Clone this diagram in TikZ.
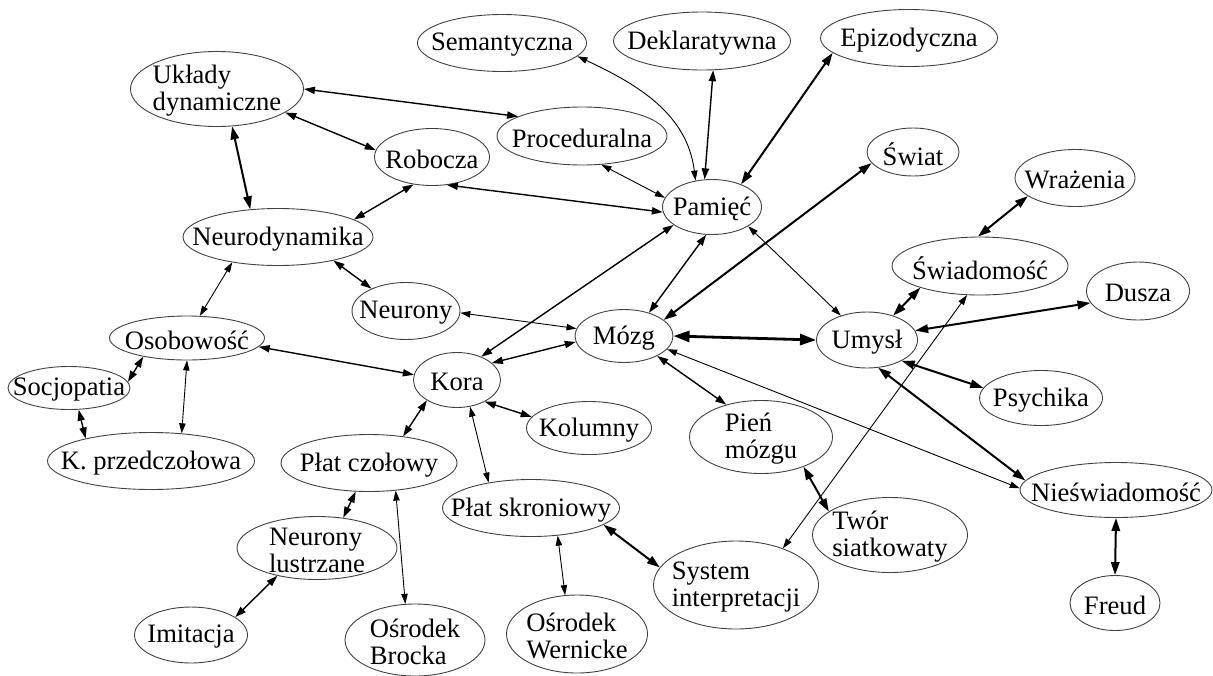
\documentclass[tikz,border=0pt]{standalone}
\usepackage{fontspec}
\setmainfont{Liberation Serif}
\usetikzlibrary{arrows.meta,shapes.geometric}

\tikzset{
  concept/.style={ellipse, draw=black!75, line width=0.45pt, inner sep=0pt},
  sz/.style 2 args={minimum width=#1*0.5pt, minimum height=#2*0.5pt},
  every label/.style={align=left, inner sep=0pt, yshift=-1pt, font=\fontsize{13.3}{13.5}\selectfont},
  rel/.style={line width=0.45pt, arrows={Triangle[length=5pt,width=3.2pt]-Triangle[length=5pt,width=3.2pt]}},
  relmid/.style={line width=0.7pt, arrows={Triangle[length=5.5pt,width=3.6pt]-Triangle[length=5.5pt,width=3.6pt]}},
  relthick/.style={line width=1pt, arrows={Triangle[length=6.5pt,width=4.2pt]-Triangle[length=6.5pt,width=4.2pt]}},
  relmax/.style={line width=1.4pt, arrows={Triangle[length=8pt,width=5.5pt]-Triangle[length=8pt,width=5.5pt]}}
}

\begin{document}
\begin{tikzpicture}[x=0.5pt, y=-0.5pt, font=\fontsize{13.3}{13.5}\selectfont]
  \useasboundingbox (0,0) rectangle (1213,675);

  % pamiec
  \node[concept, sz={169}{57}, label=center:Semantyczna] (sem) at (502,43) {};
  \node[concept, sz={177}{58}, label=center:Deklaratywna] (dekl) at (702,41) {};
  \node[concept, sz={177}{57}, label=center:Epizodyczna] (epi) at (909,38) {};
  \node[concept, sz={170}{58}, label=center:Proceduralna] (proc) at (582,136) {};
  \node[concept, sz={115}{57}, label=center:Robocza] (rob) at (432,157) {};
  \node[concept, sz={99}{55}, label=center:Pamięć] (pam) at (712,207) {};
  \node[concept, sz={173}{75}, label={center:Układy\\dynamiczne}] (ukl) at (217,89) {};
  \node[concept, sz={190}{57}, label=center:Neurodynamika] (ndyn) at (278,237) {};
  \node[concept, sz={108}{57}, label=center:Neurony] (neur) at (406,311) {};

  % umysl
  \node[concept, sz={92}{48}, label=center:Świat] (swiat) at (913,152) {};
  \node[concept, sz={120}{57}, label=center:Wrażenia] (wraz) at (1075,178) {};
  \node[concept, sz={176}{58}, label=center:Świadomość] (swiad) at (980,266) {};
  \node[concept, sz={103}{58}, label=center:Dusza] (dusza) at (1138,291) {};
  \node[concept, sz={101}{56}, label=center:Umysł] (umysl) at (867,340) {};
  \node[concept, sz={123}{55}, label=center:Psychika] (psych) at (1041,398) {};
  \node[concept, sz={192}{55}, label=center:Nieświadomość] (nies) at (1116,490) {};
  \node[concept, sz={90}{55}, label=center:Freud] (freud) at (1115,603) {};

  % mozg
  \node[concept, sz={98}{53}, label=center:Mózg] (mozg) at (624,336) {};
  \node[concept, sz={143}{73}, label={center:Pień\\mózgu}] (pien) at (761,437) {};
  \node[concept, sz={155}{75}, label={center:Twór\\siatkowaty}] (twor) at (890,535) {};
  \node[concept, sz={165}{88}, label={center:System\\interpretacji}] (sys) at (736,585) {};
  \node[concept, sz={87}{55}, label=center:Kora] (kora) at (457,380) {};
  \node[concept, sz={125}{53}, label=center:Kolumny] (kol) at (589,428) {};
  \node[concept, sz={177}{57}, label=center:Płat skroniowy] (skron) at (531,508) {};
  \node[concept, sz={141}{78}, label={center:Ośrodek\\Wernicke}] (wern) at (577,634) {};
  \node[concept, sz={176}{57}, label=center:Płat czołowy] (czol) at (369,463) {};
  \node[concept, sz={160}{63}, label={center:Neurony\\lustrzane}] (lustr) at (317,548) {};
  \node[concept, sz={113}{56}, label=center:Imitacja] (imit) at (191,635) {};
  \node[concept, sz={140}{72}, label={center:Ośrodek\\Brocka}] (broca) at (415,640) {};

  % osobowosc
  \node[concept, sz={155}{44}, label=center:Osobowość] (osob) at (187,338) {};
  \node[concept, sz={122}{43}, label=center:Socjopatia] (socj) at (69,388) {};
  \node[concept, sz={207}{57}, label=center:K. przedczołowa] (kprz) at (151,461) {};

  % connectors
  \draw[relmid] (ukl.0) -- (proc.163);
  \draw[relmid] (ukl.-19) -- (rob.173);
  \draw[relthick] (ukl.-68) -- (ndyn.135);
  \draw[relmid] (rob.-124) -- (ndyn.13);
  \draw[relmid] (rob.-62) -- (pam.186);
  \draw[rel] (proc.-56) -- (pam.169);
  \draw[rel] (sem.-10) to[out=-25, in=97] (pam.122);
  \draw[relmid] (dekl.-69) -- (pam.105);
  \draw[relthick] (epi.191) -- (pam.38);
  \draw[relmid] (kora.44) -- (pam.-155);
  \draw[relmid] (mozg.43) -- (pam.-102);
  \draw[rel] (pam.-28) -- (umysl.137);
  \draw[relthick] (mozg.22) -- (swiat.-165);
  \draw[relmax] (mozg.east) -- (umysl.west);
  \draw[relmid] (ndyn.-23) -- (neur.147);
  \draw[rel] (neur.-2) -- (mozg.171);
  \draw[relmid] (kora.26) -- (mozg.-173);
  \draw[rel] (ndyn.-151) -- (osob.60);
  \draw[relmid] (osob.-7) -- (kora.173);
  \draw[relmid] (osob.-157) -- (socj.6);
  \draw[rel] (osob.-90) -- (kprz.42);
  \draw[relmid] (socj.-66) -- (kprz.161);
  \draw[relmid] (kora.-146) -- (czol.38);
  \draw[relmid] (kora.-38) -- (kol.169);
  \draw[rel] (kora.-64) -- (skron.149);
  \draw[relmid] (czol.-115) -- (lustr.49);
  \draw[rel] (czol.-46) -- (broca.105);
  \draw[relmid] (lustr.-145) -- (imit.22);
  \draw[rel] (skron.-46) -- (wern.107);
  \draw[relthick] (skron.-13) -- (sys.167);
  \draw[relmid] (mozg.-31) -- (pien.137);
  \draw[relthick] (pien.-35) -- (twor.159);
  \draw[rel] (mozg.-17) -- (nies.179);
  \draw[relthick] (umysl.-68) -- (nies.174);
  \draw[rel] (sys.38) -- (swiad.-114);
  \draw[relthick] (umysl.43) -- (swiad.-160);
  \draw[relthick] (swiad.94) -- (wraz.-159);
  \draw[relthick] (umysl.11) -- (dusza.-166);
  \draw[relthick] (umysl.-31) -- (psych.170);
  \draw[relthick] (nies.-90) -- (freud.90);
\end{tikzpicture}
\end{document}
